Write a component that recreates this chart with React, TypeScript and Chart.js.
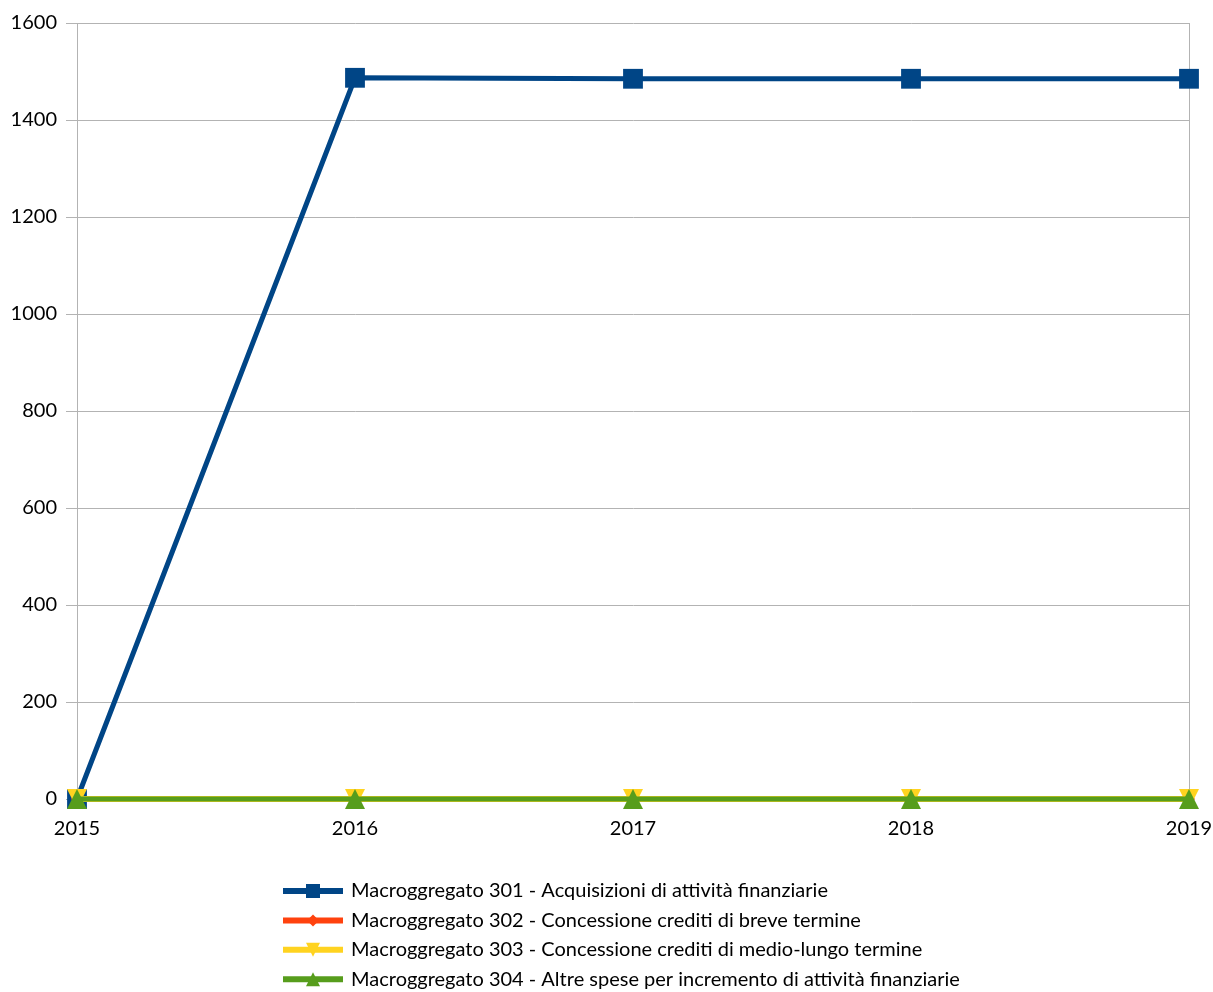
import React, { useEffect, useRef } from "react";
import { Chart, registerables } from "chart.js";

Chart.register(...registerables);

const years = ["2015", "2016", "2017", "2018", "2019"];
const macro301 = [0, 1487, 1485, 1485, 1485];
const macro302 = [0, 0, 0, 0, 0];
const macro303 = [0, 0, 0, 0, 0];
const macro304 = [0, 0, 0, 0, 0];
const seriesLabels = [
  "Macroggregato 301 - Acquisizioni di attività finanziarie",
  "Macroggregato 302 - Concessione crediti di breve termine",
  "Macroggregato 303 - Concessione crediti di medio-lungo termine",
  "Macroggregato 304 - Altre spese per incremento di attività finanziarie",
];
const colors = ["#004586", "#ff420e", "#ffd320", "#579d1c"];
const markers = ["square", "diamond", "down", "up"];

const FONT = "Lato, 'Open Sans', sans-serif";
const GRID = "#b3b3b3";

function drawMarker(ctx: CanvasRenderingContext2D, kind: string, x: number, y: number, s: number) {
  ctx.beginPath();
  if (kind === "square") {
    ctx.rect(x - s / 2, y - s / 2, s, s);
  } else if (kind === "diamond") {
    ctx.moveTo(x, y - s / 2);
    ctx.lineTo(x + s / 2, y);
    ctx.lineTo(x, y + s / 2);
    ctx.lineTo(x - s / 2, y);
    ctx.closePath();
  } else if (kind === "down") {
    ctx.moveTo(x - s / 2, y - s / 2);
    ctx.lineTo(x + s / 2, y - s / 2);
    ctx.lineTo(x, y + s / 2);
    ctx.closePath();
  } else {
    ctx.moveTo(x - s / 2, y + s / 2);
    ctx.lineTo(x + s / 2, y + s / 2);
    ctx.lineTo(x, y - s / 2);
    ctx.closePath();
  }
  ctx.fill();
}

function markerImage(kind: string, color: string, s: number): HTMLCanvasElement {
  const c = document.createElement("canvas");
  c.width = s;
  c.height = s;
  const ctx = c.getContext("2d") as CanvasRenderingContext2D;
  ctx.fillStyle = color;
  drawMarker(ctx, kind, s / 2, s / 2, s);
  return c;
}

const legendPlugin = {
  id: "customLegend",
  afterDraw(chart: any) {
    const ctx = chart.ctx as CanvasRenderingContext2D;
    const x0 = 283;
    const x1 = 343;
    const tx = 351;
    const yStart = 891;
    const step = 29.4;
    ctx.save();
    seriesLabels.forEach((label, i) => {
      const y = yStart + i * step;
      ctx.strokeStyle = colors[i];
      ctx.fillStyle = colors[i];
      ctx.lineWidth = 6;
      ctx.beginPath();
      ctx.moveTo(x0, y);
      ctx.lineTo(x1, y);
      ctx.stroke();
      drawMarker(ctx, markers[i], (x0 + x1) / 2, y, i === 1 ? 12 : 14);
      ctx.fillStyle = "#000000";
      ctx.font = `20px ${FONT}`;
      ctx.textBaseline = "middle";
      ctx.textAlign = "left";
      ctx.fillText(label, tx, y);
    });
    ctx.restore();
  },
};

export default function App() {
  const ref = useRef<HTMLCanvasElement | null>(null);

  useEffect(() => {
    document.body.style.margin = "0";
    const canvas = ref.current;
    if (!canvas) return;
    const downImg = markerImage("down", colors[2], 20);
    const upImg = markerImage("up", colors[3], 20);
    const chart = new Chart(canvas, {
      type: "line",
      data: {
        labels: years,
        datasets: [
          {
            label: seriesLabels[0],
            data: macro301,
            borderColor: colors[0],
            backgroundColor: colors[0],
            borderWidth: 5,
            pointStyle: "rect",
            pointRadius: 14,
            pointBorderWidth: 0,
            order: 4,
          },
          {
            label: seriesLabels[1],
            data: macro302,
            borderColor: colors[1],
            backgroundColor: colors[1],
            borderWidth: 5,
            pointStyle: "rectRot",
            pointRadius: 6,
            pointBorderWidth: 0,
            order: 3,
          },
          {
            label: seriesLabels[2],
            data: macro303,
            borderColor: colors[2],
            backgroundColor: colors[2],
            borderWidth: 6,
            pointStyle: downImg,
            pointRadius: 10,
            pointBorderWidth: 0,
            order: 2,
          },
          {
            label: seriesLabels[3],
            data: macro304,
            borderColor: colors[3],
            backgroundColor: colors[3],
            borderWidth: 5,
            pointStyle: upImg,
            pointRadius: 10,
            pointBorderWidth: 0,
            order: 1,
          },
        ],
      },
      options: {
        animation: false,
        responsive: false,
        maintainAspectRatio: false,
        clip: false,
        layout: { padding: { top: 23, right: 24, bottom: 133, left: 0 } },
        plugins: {
          legend: { display: false },
          tooltip: { enabled: false },
        },
        scales: {
          x: {
            type: "category",
            offset: false,
            grid: {
              color: (c: any) => (c.index === 0 || c.index === years.length - 1 ? GRID : "rgba(0,0,0,0)"),
              tickColor: GRID,
              tickLength: 10,
              lineWidth: 1,
            },
            border: { display: false },
            ticks: {
              color: "#000000",
              font: { family: FONT, size: 20 },
              padding: 8,
              maxRotation: 0,
            },
            afterFit: (scale: any) => {
              scale.height = 60;
              scale.paddingLeft = 0;
              scale.paddingRight = 0;
            },
          },
          y: {
            min: 0,
            max: 1600,
            ticks: {
              stepSize: 200,
              color: "#000000",
              font: { family: FONT, size: 20 },
              padding: 9,
              callback: (v: any) => String(v),
            },
            grid: { color: GRID, tickLength: 11, lineWidth: 1 },
            border: { color: GRID, width: 1 },
            afterFit: (scale: any) => {
              scale.width = 77;
              scale.paddingTop = 0;
              scale.paddingBottom = 0;
            },
          },
        },
      },
      plugins: [legendPlugin],
    });
    return () => chart.destroy();
  }, []);

  return (
    <div style={{ width: 1213, height: 992, background: "#ffffff" }}>
      <canvas ref={ref} width={1213} height={992} style={{ display: "block" }} />
    </div>
  );
}
